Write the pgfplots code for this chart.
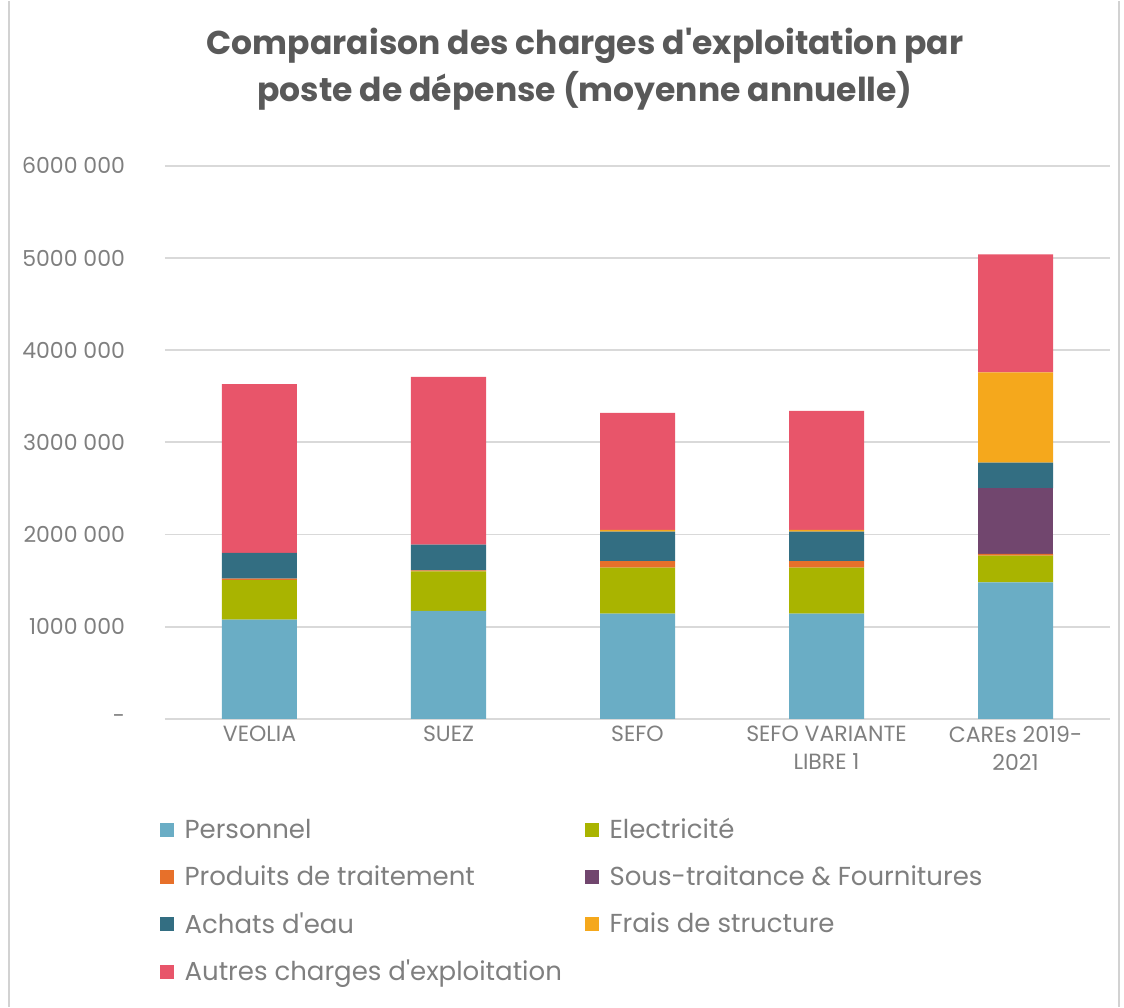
\documentclass[border=0pt]{standalone}
\usepackage{fontspec}
\setmainfont{Poppins}[Ligatures=TeXOff]
\usepackage{pgfplots}
\pgfplotsset{compat=1.18}
\definecolor{cPers}{HTML}{6AADC5}
\definecolor{cElec}{HTML}{A9B400}
\definecolor{cProd}{HTML}{E7702A}
\definecolor{cSous}{HTML}{71466E}
\definecolor{cEau}{HTML}{336E82}
\definecolor{cFrais}{HTML}{F5A81C}
\definecolor{cAutre}{HTML}{E8556A}
\definecolor{cTxt}{HTML}{7F7F7F}
\definecolor{cTitle}{HTML}{595959}

\begin{document}
\begin{tikzpicture}
\begin{axis}[
  at={(0,0)}, anchor=south west,
  scale only axis, width=472.5pt, height=276.5pt,
  ybar stacked, bar width=37.5pt,
  xmin=-0.5, xmax=4.5, ymin=0, ymax=6000000,
  scaled y ticks=false,
  xtick={0,1,2,3,4},
  xticklabels={VEOLIA, SUEZ, SEFO, {SEFO VARIANTE\\LIBRE 1}, {CAREs 2019-\\2021}},
  xticklabel style={align=center, font=\fontsize{11}{14}\selectfont, text=cTxt},
  ytick={0,1000000,2000000,3000000,4000000,5000000,6000000},
  yticklabels={-, 1000 000, 2000 000, 3000 000, 4000 000, 5000 000, 6000 000},
  yticklabel style={font=\fontsize{11}{13}\selectfont, text=cTxt, xshift=-16.5pt},
  axis line style={draw=none},
  major tick length=0pt,
  ymajorgrids, grid style={gray!30, line width=0.9pt},
  legend columns=2,
  legend cell align=left,
  legend style={at={(-0.0125,-0.165)}, anchor=north west, draw=none, fill=none,
    font=\fontsize{13}{15}\selectfont, text=cTxt, row sep=8pt,
    /tikz/every odd column/.append style={column sep=3.5pt},
    /tikz/every even column/.append style={column sep=4pt}},
  legend image code/.code={\fill[#1] (0pt,-3.5pt) rectangle (7pt,3.5pt);},
]
\addplot[fill=cPers, draw=none] coordinates {(0,1076000) (1,1170000) (2,1140000) (3,1140000) (4,1480000)};
\addlegendentry{\makebox[194pt][l]{Personnel}}
\addplot[fill=cElec, draw=none] coordinates {(0,430000) (1,430000) (2,500000) (3,500000) (4,290000)};
\addlegendentry{Electricité}
\addplot[fill=cProd, draw=none] coordinates {(0,15000) (1,10000) (2,70000) (3,70000) (4,20000)};
\addlegendentry{\makebox[194pt][l]{Produits de traitement}}
\addplot[fill=cSous, draw=none] coordinates {(0,0) (1,0) (2,0) (3,0) (4,710000)};
\addlegendentry{Sous-traitance \& Fournitures}
\addplot[fill=cEau, draw=none] coordinates {(0,280000) (1,280000) (2,320000) (3,320000) (4,280000)};
\addlegendentry{\makebox[194pt][l]{Achats d'eau}}
\addplot[fill=cFrais, draw=none] coordinates {(0,0) (1,0) (2,20000) (3,20000) (4,980000)};
\addlegendentry{Frais de structure}
\addplot[fill=cAutre, draw=none] coordinates {(0,1830000) (1,1820000) (2,1270000) (3,1290000) (4,1280000)};
\addlegendentry{Autres charges d'exploitation}
\end{axis}
\node[align=center, font=\fontsize{16.5}{23.5}\selectfont\bfseries, text=cTitle] at (210pt,325pt)
  {Comparaison des charges d'exploitation par\\poste de dépense (moyenne annuelle)};
\draw[gray!35, line width=0.8pt] (-78pt,-144pt) -- (-78pt,359pt);
\draw[gray!35, line width=0.8pt] (477pt,-144pt) -- (477pt,359pt);
\useasboundingbox (-82.5pt,-144pt) rectangle (479.5pt,359pt);
\end{tikzpicture}
\end{document}
